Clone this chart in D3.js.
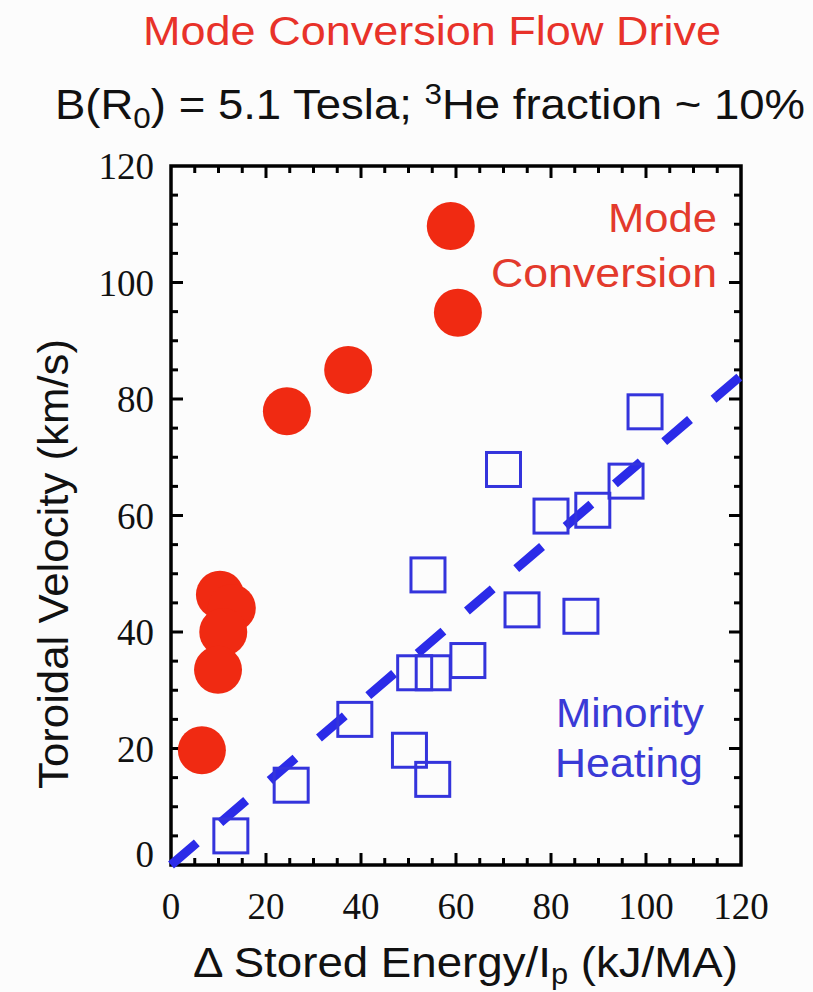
<!DOCTYPE html>
<html>
<head>
<meta charset="utf-8">
<script src="https://cdn.jsdelivr.net/npm/d3@7"></script>
<style>
  html, body { margin: 0; padding: 0; background: #fcfcfc; }
  svg { display: block; }
</style>
</head>
<body>
<svg id="chart" width="813" height="992"></svg>
<script>
// Mode conversion (red filled circles)
const mcX = [58.9, 60.4, 37.3, 24.4, 10.3, 12.8, 11.0, 9.9, 6.5];
const mcY = [109.7, 94.8, 85.0, 77.9, 46.4, 44.1, 40.0, 33.5, 19.7];

// Minority heating (blue open squares)
const mhX = [12.6, 25.3, 38.7, 50.2, 55.1, 51.3, 55.2, 62.5, 54.1, 73.9, 86.3, 80.0, 88.8, 95.8, 70.0, 99.8];
const mhY = [5.0, 13.7, 25.0, 19.7, 14.7, 33.0, 33.0, 35.1, 49.8, 43.8, 42.7, 59.9, 60.9, 65.9, 67.9, 77.8];

// Linear trend for the minority-heating data
const fitX = [0, 120];
const fitY = [0, 84];

const xTicks = [0, 20, 40, 60, 80, 100, 120];
const yTicks = [0, 20, 40, 60, 80, 100, 120];

const svg = d3.select("#chart");
const plotL = 171, plotR = 741, plotT = 166, plotB = 865;

const x = d3.scaleLinear().domain([0, 120]).range([plotL, plotR]);
const y = d3.scaleLinear().domain([0, 120]).range([plotB, plotT]);

const RED = "#f02a12";
const BLUE = "#3434dc";
const sans = "'Liberation Sans', Arial, sans-serif";
const serif = "'Liberation Serif', 'Times New Roman', serif";

// Titles
svg.append("text")
  .attr("x", 432).attr("y", 45)
  .attr("text-anchor", "middle")
  .attr("font-family", sans).attr("font-size", 41)
  .attr("fill", "#e8322a")
  .attr("textLength", 578).attr("lengthAdjust", "spacingAndGlyphs")
  .text("Mode Conversion Flow Drive");

const sub = svg.append("text")
  .attr("x", 55).attr("y", 119)
  .attr("font-family", sans).attr("font-size", 42)
  .attr("fill", "#111")
  .attr("textLength", 750).attr("lengthAdjust", "spacingAndGlyphs");
sub.append("tspan").text("B(R");
sub.append("tspan").attr("dy", 9).attr("font-size", 29).text("0");
sub.append("tspan").attr("dy", -9).text(") = 5.1 Tesla; ");
sub.append("tspan").attr("dy", -15).attr("font-size", 29).text("3");
sub.append("tspan").attr("dy", 15).text("He fraction ~ 10%");

// Minor ticks every 5 units, major every 20
const minor = d3.range(0, 121, 5).filter(v => v % 20 !== 0);
const g = svg.append("g");

function ticksFor(vals, len) {
  vals.forEach(v => {
    // bottom & top
    g.append("line").attr("x1", x(v)).attr("x2", x(v)).attr("y1", plotB).attr("y2", plotB - len);
    g.append("line").attr("x1", x(v)).attr("x2", x(v)).attr("y1", plotT).attr("y2", plotT + len);
    // left & right
    g.append("line").attr("y1", y(v)).attr("y2", y(v)).attr("x1", plotL).attr("x2", plotL + len);
    g.append("line").attr("y1", y(v)).attr("y2", y(v)).attr("x1", plotR).attr("x2", plotR - len);
  });
}
ticksFor(minor, 7);
ticksFor(xTicks.slice(1, -1), 12);
g.selectAll("line").attr("stroke", "#000").attr("stroke-width", 3);

// Frame
svg.append("rect")
  .attr("x", plotL).attr("y", plotT)
  .attr("width", plotR - plotL).attr("height", plotB - plotT)
  .attr("fill", "none").attr("stroke", "#000").attr("stroke-width", 3.5);

// Tick labels
svg.append("g").selectAll("text").data(xTicks).join("text")
  .attr("x", d => x(d)).attr("y", 919)
  .attr("text-anchor", "middle")
  .attr("font-family", serif).attr("font-size", 37)
  .attr("fill", "#111")
  .text(d => d);

svg.append("g").selectAll("text").data(yTicks).join("text")
  .attr("x", plotL - 17).attr("y", d => y(d) + 13 - (d === 0 ? 11 : 0))
  .attr("text-anchor", "end")
  .attr("font-family", serif).attr("font-size", 37)
  .attr("fill", "#111")
  .text(d => d);

// Axis titles
const xl = svg.append("text")
  .attr("x", 193).attr("y", 977)
  .attr("font-family", sans).attr("font-size", 43)
  .attr("fill", "#111")
  .attr("textLength", 545).attr("lengthAdjust", "spacingAndGlyphs");
xl.append("tspan").text("\u0394 Stored Energy/I");
xl.append("tspan").attr("dy", 7).attr("font-size", 29).text("p");
xl.append("tspan").attr("dy", -7).text(" (kJ/MA)");

svg.append("text")
  .attr("transform", "translate(68,564) rotate(-90)")
  .attr("text-anchor", "middle")
  .attr("font-family", sans).attr("font-size", 43)
  .attr("fill", "#111")
  .attr("textLength", 450).attr("lengthAdjust", "spacingAndGlyphs")
  .text("Toroidal Velocity (km/s)");

// Fit line
const line = d3.line().x(d => x(d[0])).y(d => y(d[1]));
svg.append("path")
  .datum(d3.zip(fitX, fitY))
  .attr("d", line)
  .attr("fill", "none")
  .attr("stroke", "#2b2be8")
  .attr("stroke-width", 9)
  .attr("stroke-dasharray", "34,31");

// Squares
const side = 34;
svg.append("g").selectAll("rect").data(d3.zip(mhX, mhY)).join("rect")
  .attr("x", d => x(d[0]) - side / 2)
  .attr("y", d => y(d[1]) - side / 2)
  .attr("width", side).attr("height", side)
  .attr("fill", "none")
  .attr("stroke", BLUE).attr("stroke-width", 3);

// Circles
svg.append("g").selectAll("circle").data(d3.zip(mcX, mcY)).join("circle")
  .attr("cx", d => x(d[0])).attr("cy", d => y(d[1]))
  .attr("r", 24)
  .attr("fill", RED);

// In-plot annotations
function note(txt, xPos, yPos, anchor, color, len) {
  svg.append("text")
    .attr("x", xPos).attr("y", yPos).attr("text-anchor", anchor)
    .attr("font-family", sans).attr("font-size", 40).attr("fill", color)
    .attr("textLength", len).attr("lengthAdjust", "spacingAndGlyphs")
    .text(txt);
}
note("Mode", 717, 232, "end", "#e33a2c", 109);
note("Conversion", 717, 287, "end", "#e33a2c", 226);
note("Minority", 630, 727, "middle", "#3a3ad6", 148);
note("Heating", 629, 777, "middle", "#3a3ad6", 148);
</script>
</body>
</html>
